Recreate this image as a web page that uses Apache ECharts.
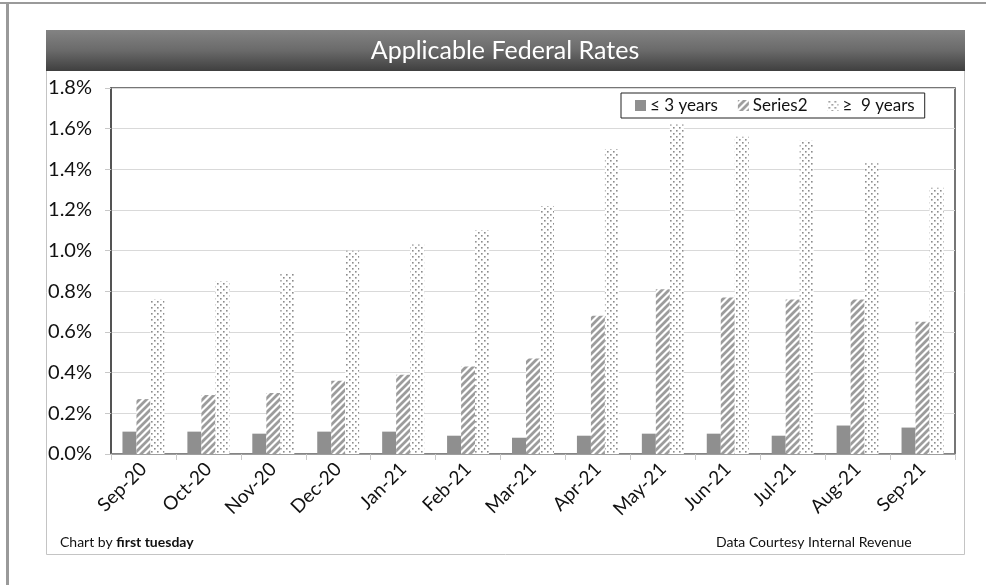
<!DOCTYPE html>
<html>
<head>
<meta charset="utf-8">
<script src="https://cdn.jsdelivr.net/npm/echarts@6/dist/echarts.min.js"></script>
<style>
  html, body { margin: 0; padding: 0; background: #fff; }
  #chart { width: 986px; height: 585px; }
</style>
</head>
<body>
<div id="chart"></div>
<script>
// Monthly applicable federal rates, percent
const months = ['Sep-20', 'Oct-20', 'Nov-20', 'Dec-20', 'Jan-21', 'Feb-21', 'Mar-21',
                'Apr-21', 'May-21', 'Jun-21', 'Jul-21', 'Aug-21', 'Sep-21'];
const shortTerm = [0.11, 0.11, 0.10, 0.11, 0.11, 0.09, 0.08, 0.09, 0.10, 0.10, 0.09, 0.14, 0.13];
const midTerm   = [0.27, 0.29, 0.30, 0.36, 0.39, 0.43, 0.47, 0.68, 0.81, 0.77, 0.76, 0.76, 0.65];
const longTerm  = [0.76, 0.85, 0.89, 1.00, 1.03, 1.10, 1.22, 1.50, 1.62, 1.56, 1.54, 1.43, 1.31];
const seriesNames = ['≤ 3 years', 'Series2', '≥  9 years'];
const yTicks = { min: 0, max: 1.8, step: 0.2 };

const FONT = 'Lato, "Open Sans", sans-serif';

// Fill patterns: diagonal hatch and dot grid
function hatchPattern() {
  const c = document.createElement('canvas');
  c.width = 7; c.height = 7;
  const g = c.getContext('2d');
  g.fillStyle = '#ffffff'; g.fillRect(0, 0, 7, 7);
  g.strokeStyle = '#9c9c9c'; g.lineWidth = 2.8;
  g.beginPath();
  g.moveTo(-1, 8); g.lineTo(8, -1);
  g.moveTo(-4, 4); g.lineTo(4, -4);
  g.moveTo(3, 11); g.lineTo(11, 3);
  g.stroke();
  return { image: c, repeat: 'repeat' };
}
function dotPattern() {
  const c = document.createElement('canvas');
  c.width = 6; c.height = 6;
  const g = c.getContext('2d');
  g.fillStyle = '#ffffff'; g.fillRect(0, 0, 6, 6);
  g.fillStyle = '#8c8c8c';
  g.fillRect(1, 1, 1.6, 1.6);
  g.fillRect(4, 4, 1.6, 1.6);
  return { image: c, repeat: 'repeat' };
}

const chart = echarts.init(document.getElementById('chart'), null, { renderer: 'canvas' });

chart.setOption({
  animation: false,
  backgroundColor: '#ffffff',
  textStyle: { fontFamily: FONT },
  graphic: [
    // page edge lines
    { type: 'rect', shape: { x: 0, y: 2, width: 986, height: 2 }, style: { fill: '#9a9a9a' }, silent: true },
    { type: 'rect', shape: { x: 6, y: 2, width: 3, height: 583 }, style: { fill: '#9a9a9a' }, silent: true },
    // chart box
    { type: 'rect', shape: { x: 46.5, y: 30.5, width: 918, height: 524 },
      style: { fill: 'none', stroke: '#c4c4c4', lineWidth: 1 }, silent: true, z: -1 },
    // title bar
    { type: 'rect', shape: { x: 46, y: 30, width: 919, height: 41 }, silent: true,
      style: { fill: new echarts.graphic.LinearGradient(0, 0, 0, 1, [
        { offset: 0, color: '#838383' }, { offset: 0.5, color: '#6a6a6a' }, { offset: 1, color: '#3f3f3f' }]) } },
    { type: 'text', x: 505, y: 51, silent: true,
      style: { text: 'Applicable Federal Rates', fill: '#ffffff', font: '25px ' + FONT,
               align: 'center', verticalAlign: 'middle' } },
    // credits
    { type: 'text', left: 60, top: 535, silent: true,
      style: { rich: { n: { fontSize: 14, fontFamily: FONT, fill: '#111' },
                       b: { fontSize: 14, fontFamily: FONT, fontWeight: 'bold', fill: '#111' } },
               text: '{n|Chart by }{b|first tuesday}' } },
    { type: 'text', left: 716, top: 535, silent: true,
      style: { text: 'Data Courtesy Internal Revenue', fill: '#111', font: '14px ' + FONT } }
  ],
  legend: {
    data: seriesNames,
    left: 621, top: 93,
    itemWidth: 11, itemHeight: 11, itemGap: 20,
    padding: [4, 10, 4, 14],
    borderColor: '#222', borderWidth: 1,
    icon: 'rect',
    textStyle: { fontSize: 17, color: '#111', fontFamily: FONT, padding: [0, 0, 0, -1] }
  },
  grid: {
    left: 111, right: 31, top: 88, bottom: 131,
    show: true, borderColor: '#4a4a4a', borderWidth: 1.5, backgroundColor: 'transparent'
  },
  xAxis: {
    type: 'category',
    data: months,
    axisLine: { lineStyle: { color: '#8a8a8a', width: 1.5 } },
    axisTick: { show: true, length: 6, lineStyle: { color: '#c8c8c8' } },
    axisLabel: { rotate: 45, fontSize: 19, color: '#111', margin: 12, fontFamily: FONT }
  },
  yAxis: {
    type: 'value',
    min: yTicks.min, max: yTicks.max, interval: yTicks.step,
    axisLine: { show: true, lineStyle: { color: '#4a4a4a', width: 1.5 } },
    axisTick: { show: true, length: 6, lineStyle: { color: '#c8c8c8' } },
    splitLine: { lineStyle: { color: '#d9d9d9', width: 1 } },
    axisLabel: { fontSize: 20, color: '#111', margin: 19, fontFamily: FONT,
                 formatter: v => v.toFixed(1) + '%' }
  },
  series: [
    { name: seriesNames[0], type: 'bar', data: shortTerm, barWidth: 14, barGap: '0%',
      itemStyle: { color: '#8f8f8f' } },
    { name: seriesNames[1], type: 'bar', data: midTerm, barWidth: 14, barGap: '0%',
      itemStyle: { color: hatchPattern() } },
    { name: seriesNames[2], type: 'bar', data: longTerm, barWidth: 14, barGap: '0%',
      itemStyle: { color: dotPattern() } }
  ]
});
</script>
</body>
</html>
